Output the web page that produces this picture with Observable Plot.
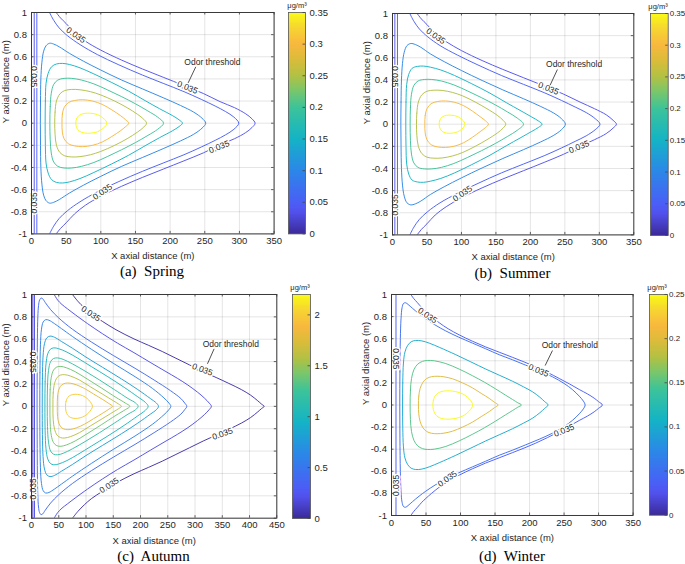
<!DOCTYPE html>
<html><head><meta charset="utf-8">
<script src="https://cdn.jsdelivr.net/npm/d3@7"></script>
<script src="https://cdn.jsdelivr.net/npm/@observablehq/plot@0.6"></script>
<style>
html,body{margin:0;padding:0;background:#fff;}
#page{position:relative;width:685px;height:564px;overflow:hidden;font-family:"Liberation Sans",Arial,sans-serif;}
.box{position:absolute;}
.cap{position:absolute;font-family:"Liberation Serif","Times New Roman",serif;font-size:15px;white-space:pre;transform:translate(-50%,-50%);color:#000;}
.unit{position:absolute;font-size:7.5px;transform:translate(-50%,-50%);color:#262626;white-space:nowrap;}
</style></head><body><div id="page"></div>
<script>
// ---------- colour map (parula-like) ----------
const parulaT = [0, 0.1, 0.143, 0.29, 0.43, 0.57, 0.65, 0.714, 0.79, 0.857, 0.93, 1];
const parulaC = ["#3b2a98","#5252ee","#4a5ff6","#2b88e8","#14b4c6","#3cc39a","#7cc66a","#b2c144","#dcbc3a","#f8b83e","#f7d532","#f9fb15"];

// ---------- shared ticks ----------
const yTicks = [-1, -0.8, -0.6, -0.4, -0.2, 0, 0.2, 0.4, 0.6, 0.8, 1];
const xTicks350 = [0, 50, 100, 150, 200, 250, 300, 350];
const xTicks450 = [0, 50, 100, 150, 200, 250, 300, 350, 400, 450];
const cbTicks035 = [0, 0.05, 0.1, 0.15, 0.2, 0.25, 0.3, 0.35];
const cbTicks22 = [0, 0.5, 1, 1.5, 2];
const cbTicks025 = [0, 0.05, 0.1, 0.15, 0.2, 0.25];
const thresholdText = "Odor threshold";

// ---------- (a) Spring ----------
const springLevels = [0.035, 0.05, 0.1, 0.15, 0.2, 0.25, 0.3, 0.35];
const springMax = 0.35;
const springLeftX = [3.9, 7.7];
const springOpen = [
  [[35.6,1],[42,0.95],[50,0.9],[62,0.82],[78,0.74],[100,0.66],[130,0.57],[160,0.49],[190,0.415],[220,0.34],[248,0.268],[272,0.195],[293,0.14],[309,0.085],[318,0.04],[322.6,0]],
  [[26,1],[32,0.93],[40,0.86],[52,0.79],[70,0.71],[95,0.62],[125,0.53],[160,0.435],[190,0.36],[220,0.285],[245,0.215],[265,0.155],[280,0.105],[292,0.055],[299,0]]
];
const springClosed = [
  [[12.8,0],[13,0.2],[13.5,0.4],[15,0.55],[17.5,0.65],[21,0.7],[26,0.722],[32,0.715],[40,0.69],[55,0.63],[75,0.56],[100,0.48],[130,0.39],[160,0.31],[190,0.23],[215,0.16],[234,0.1],[246,0.045],[251.4,0]],
  [[19.7,0],[20,0.2],[21,0.36],[24,0.45],[29,0.51],[36,0.535],[45,0.54],[55,0.53],[70,0.5],[90,0.445],[115,0.37],[140,0.29],[165,0.2],[185,0.13],[203,0.07],[213,0.03],[217.8,0]],
  [[26.5,0],[27,0.15],[28.5,0.27],[32,0.35],[38,0.39],[47,0.405],[58,0.405],[72,0.39],[90,0.355],[110,0.3],[130,0.24],[150,0.175],[168,0.11],[182,0.055],[190.5,0]],
  [[33.5,0],[34,0.1],[36,0.2],[41,0.265],[48,0.295],[58,0.305],[70,0.302],[85,0.285],[100,0.255],[120,0.2],[138,0.14],[153,0.08],[162,0.035],[166,0]],
  [[44,0],[44.5,0.08],[47,0.14],[53,0.185],[62,0.205],[74,0.212],[88,0.2],[102,0.17],[116,0.12],[128,0.07],[136,0.03],[140.4,0]],
  [[64,0],[65,0.04],[69,0.072],[76,0.088],[85,0.09],[95,0.078],[103,0.048],[107.5,0.02],[108.7,0]]
];
const springLabels = [[64,0.795,35],[225,0.322,22],[270.7,-0.214,-22],[102.4,-0.62,-35],[3.9,0.42,90],[3.9,-0.72,-90]];
const springOdor = [[261,0.554]];
const springLeader = [[237,0.509,226,0.364]];

// ---------- (b) Summer ----------
const summerLevels = [0.035, 0.05, 0.1, 0.15, 0.2, 0.25, 0.3, 0.35];
const summerMax = 0.35;
const summerLeftX = [3.4, 7.2];
const summerOpen = [
  [[35.7,1],[42,0.95],[50,0.9],[62,0.82],[78,0.745],[100,0.665],[130,0.575],[160,0.495],[190,0.42],[220,0.345],[248,0.272],[272,0.2],[293,0.14],[310,0.085],[320,0.035],[324.8,0]],
  [[25.1,1],[31,0.93],[39,0.86],[51,0.79],[69,0.71],[94,0.625],[124,0.535],[158,0.44],[190,0.36],[220,0.285],[245,0.215],[265,0.155],[281,0.105],[294,0.05],[301,0]]
];
const summerClosed = [
  [[12.1,0],[12.4,0.2],[13,0.4],[14.5,0.55],[17,0.65],[21,0.71],[26.6,0.729],[33,0.72],[41,0.695],[55,0.635],[75,0.565],[100,0.485],[130,0.395],[160,0.31],[190,0.23],[215,0.16],[234,0.1],[245,0.05],[250.8,0]],
  [[19.3,0],[19.6,0.2],[20.6,0.36],[23.5,0.45],[28.5,0.505],[36,0.522],[45,0.525],[55,0.515],[70,0.49],[90,0.44],[115,0.365],[140,0.285],[165,0.195],[185,0.125],[202,0.065],[212,0.028],[217,0]],
  [[25.6,0],[26,0.15],[27.5,0.27],[31,0.35],[37,0.39],[46,0.404],[57,0.404],[71,0.39],[89,0.355],[109,0.3],[129,0.24],[149,0.175],[167,0.11],[181,0.055],[190,0]],
  [[34.8,0],[35.3,0.1],[37.5,0.2],[42.5,0.265],[50,0.298],[60,0.307],[72,0.305],[87,0.287],[102,0.255],[120,0.2],[137,0.14],[152,0.08],[160.5,0.035],[164.3,0]],
  [[46.9,0],[47.4,0.08],[50,0.14],[56,0.185],[65,0.205],[77,0.21],[90,0.198],[103,0.168],[116,0.118],[127,0.068],[135,0.03],[139.2,0]],
  [[67.7,0],[68.6,0.035],[72,0.065],[78,0.08],[86,0.081],[94,0.07],[100.5,0.045],[104,0.02],[104.9,0]]
];
const summerLabels = [[62.8,0.795,35],[226.2,0.322,22],[270.7,-0.205,-22],[101.5,-0.627,-35],[3.4,0.43,90],[3.4,-0.73,-90]];
const summerOdor = [[263.4,0.542]];
const summerLeader = [[239.2,0.494,228.6,0.352]];

// ---------- (c) Autumn ----------
const autumnLevels = [0.035, 0.2, 0.4, 0.6, 0.8, 1.0, 1.2, 1.4, 1.6, 1.8, 2.0];
const autumnMax = 2.2;
const autumnLeftX = [2.5, 5.5];
const autumnOpen = [
  [[75.2,1],[85,0.94],[97,0.88],[110,0.825],[130,0.76],[155,0.685],[188,0.603],[215,0.545],[240,0.49],[265,0.43],[290,0.37],[315,0.31],[340,0.255],[362,0.205],[385,0.15],[402,0.1],[415,0.05],[422,0.02],[426.8,0]],
  [[41.6,1],[48,0.95],[56,0.91],[66,0.872],[80,0.82],[102.7,0.74],[130,0.65],[157.7,0.565],[188,0.48],[218.9,0.39],[245,0.315],[267.8,0.25],[287,0.19],[304.5,0.127],[317,0.075],[325.9,0.03],[330,0]]
];
const autumnClosed = [
  [[10.2,0],[10.4,0.3],[10.8,0.6],[11.6,0.8],[12.9,0.9],[14.8,0.95],[17.5,0.968],[20.5,0.962],[25,0.93],[35,0.865],[50,0.79],[75,0.69],[110,0.575],[150,0.455],[190,0.34],[225,0.235],[255,0.14],[274,0.07],[281,0.03],[284.9,0]],
  [[15.2,0],[15.5,0.3],[16.4,0.55],[18.3,0.69],[21.5,0.755],[26,0.775],[32,0.77],[42,0.74],[55,0.695],[75,0.625],[110,0.51],[150,0.385],[190,0.265],[222,0.16],[243,0.075],[252,0.03],[255.6,0]],
  [[19.7,0],[20,0.25],[21.2,0.45],[23.8,0.56],[28,0.612],[34,0.628],[42,0.618],[55,0.58],[75,0.52],[100,0.44],[130,0.35],[165,0.245],[195,0.15],[218,0.07],[229,0.03],[233,0]],
  [[24.6,0],[25,0.22],[26.6,0.38],[29.8,0.47],[34.5,0.51],[41,0.523],[50,0.515],[65,0.485],[85,0.43],[110,0.355],[140,0.265],[170,0.17],[195,0.085],[209,0.035],[214,0]],
  [[28.9,0],[29.3,0.18],[31.2,0.32],[35,0.4],[40.5,0.428],[48,0.433],[58,0.42],[75,0.38],[100,0.31],[125,0.235],[152,0.15],[177,0.07],[191,0.03],[195.7,0]],
  [[33.8,0],[34.2,0.15],[36.3,0.26],[40.5,0.325],[46.5,0.352],[54,0.357],[64,0.345],[80,0.31],[102,0.245],[128,0.165],[155,0.08],[172,0.03],[180.4,0]],
  [[39.3,0],[39.8,0.12],[42.3,0.205],[47,0.258],[53.5,0.28],[61,0.283],[72,0.27],[88,0.235],[108,0.175],[130,0.11],[150,0.05],[160,0.02],[165,0]],
  [[47.3,0],[47.8,0.09],[50.5,0.155],[55.5,0.192],[62.5,0.207],[71,0.207],[82,0.193],[97,0.16],[114,0.11],[131,0.06],[142,0.025],[148.6,0]],
  [[62.5,0],[63.3,0.045],[66.5,0.08],[72,0.1],[80,0.108],[89,0.103],[98,0.085],[105,0.057],[109.5,0.028],[112,0]]
];
const autumnLabels = [[108.8,0.827,33],[313.6,0.329,20],[350.3,-0.246,-20],[142.5,-0.708,-33],[2.5,0.395,90],[2.5,-0.738,-90]];
const autumnOdor = [[365.6,0.553]];
const autumnLeader = [[335,0.514,322.8,0.38]];

// ---------- (d) Winter ----------
const winterLevels = [0.035, 0.05, 0.1, 0.15, 0.2, 0.25];
const winterMax = 0.25;
const winterLeftX = [6.5];
const winterOpen = [
  [[28,1],[32,0.965],[37.7,0.925],[44,0.88],[49.8,0.845],[58,0.8],[69,0.745],[82,0.69],[98,0.635],[117,0.578],[136.5,0.525],[156,0.478],[175,0.432],[192,0.39],[209,0.345],[226,0.295],[243,0.24],[258,0.19],[272,0.14],[284,0.1],[293.6,0.062],[300,0.03],[305.6,0]]
];
const winterClosed = [
  [[12,0],[12.2,0.3],[12.8,0.6],[13.8,0.78],[15.3,0.88],[17.5,0.92],[20.5,0.925],[24,0.91],[30.4,0.875],[40,0.825],[49.7,0.78],[63,0.725],[78.7,0.67],[97,0.615],[117.3,0.56],[136,0.51],[156,0.455],[175,0.41],[194.6,0.36],[214,0.31],[233.2,0.255],[250,0.195],[262,0.14],[272,0.08],[278,0.035],[280.5,0]],
  [[16,0],[16.3,0.2],[17.3,0.38],[19.5,0.48],[23.5,0.54],[28.5,0.572],[35,0.584],[44,0.58],[54.6,0.56],[70,0.52],[93.2,0.455],[115,0.39],[136.6,0.325],[156,0.27],[175.3,0.215],[191,0.165],[204.2,0.12],[215,0.07],[222,0.03],[226.9,0]],
  [[27,0],[27.4,0.13],[29,0.24],[32.5,0.32],[38,0.37],[45,0.395],[52,0.403],[62,0.4],[78.7,0.375],[98,0.325],[117.3,0.265],[135,0.205],[151,0.145],[165,0.09],[175.3,0.05],[183,0.02],[188.3,0]],
  [[39,0],[39.5,0.08],[41.5,0.15],[45.5,0.205],[51,0.24],[58,0.256],[66,0.26],[76,0.255],[88.4,0.237],[103,0.2],[117.3,0.155],[130,0.105],[141.5,0.06],[149,0.025],[154.5,0]],
  [[60,0],[60.6,0.04],[63,0.08],[67.5,0.108],[73,0.123],[80,0.128],[88,0.126],[98,0.113],[106,0.09],[112.5,0.056],[116,0.027],[117.8,0]]
];
const winterLabels = [[52.1,0.81,35],[213,0.312,22],[250,-0.23,-22],[81,-0.668,-35],[6.5,0.418,90],[6.5,-0.728,-90]];
const winterOdor = [[258.3,0.538]];
const winterLeader = [[233.2,0.493,222.6,0.357]];

// ---------- drawing ----------
const FONT = '"Liberation Sans", Arial, sans-serif';
const INK = "#262626";
const fmt = d => String(d);
const page = document.getElementById("page");

function buildRows(levels, leftX, open, closed) {
  const openRows = [], closedRows = [];
  open.forEach((pts, i) => {
    const full = pts.concat(pts.slice(0, -1).reverse().map(([x, y]) => [x, -y]));
    full.forEach(([x, y]) => openRows.push({id: "o" + i, level: levels[i], x, y}));
  });
  leftX.forEach((x0, i) => {
    openRows.push({id: "v" + i, level: levels[i], x: x0, y: -1});
    openRows.push({id: "v" + i, level: levels[i], x: x0, y: 1});
  });
  closed.forEach((pts, j) => {
    const full = pts.concat(pts.slice(1, -1).reverse().map(([x, y]) => [x, -y]));
    full.forEach(([x, y]) => closedRows.push({id: "c" + j, level: levels[open.length + j], x, y}));
  });
  return {openRows, closedRows};
}

function colorSpec(max) {
  return {type: "linear", domain: parulaT.map(t => t * max), range: parulaC, clamp: true, interpolate: "rgb"};
}

function place(node, left, top, w, h) {
  const d = document.createElement("div");
  d.className = "box";
  d.style.left = left + "px"; d.style.top = top + "px";
  d.style.width = w + "px"; d.style.height = h + "px";
  d.appendChild(node);
  page.appendChild(d);
}

function htmlText(cls, text, x, y) {
  const d = document.createElement("div");
  d.className = cls; d.textContent = text;
  d.style.left = x + "px"; d.style.top = y + "px";
  page.appendChild(d);
}

function drawPanel(c) {
  const mL = 31, mT = 12, mR = 6, mB = 32;
  const {openRows, closedRows} = buildRows(c.levels, c.leftX, c.open, c.closed);
  const W = c.W, H = c.H;
  const main = Plot.plot({
    width: W + mL + mR, height: H + mT + mB,
    marginLeft: mL, marginTop: mT, marginRight: mR, marginBottom: mB,
    x: {domain: [0, c.xMax]},
    y: {domain: [-1, 1]},
    color: colorSpec(c.max),
    style: {fontFamily: FONT, fontSize: "9.5px", color: INK, background: "transparent", overflow: "visible"},
    marks: [
      Plot.gridX(c.xTicks, {stroke: "#000", strokeOpacity: 0.11}),
      Plot.gridY(yTicks, {stroke: "#000", strokeOpacity: 0.11}),
      Plot.line(openRows, {x: "x", y: "y", z: "id", stroke: "level", curve: "catmull-rom", strokeWidth: 0.95, clip: true}),
      Plot.line(closedRows, {x: "x", y: "y", z: "id", stroke: "level", curve: "catmull-rom-closed", strokeWidth: 0.95, clip: true}),
      Plot.text(c.labels, {x: d => d[0], y: d => d[1], rotate: d => d[2], text: () => String(c.levels[0]), fontSize: 8.5, fill: INK, stroke: "white", strokeWidth: 3, lineAnchor: "middle"}),
      Plot.link(c.leader, {x1: d => d[0], y1: d => d[1], x2: d => d[2], y2: d => d[3], stroke: INK, strokeWidth: 0.8}),
      Plot.text(c.odor, {x: d => d[0], y: d => d[1], text: () => thresholdText, fontSize: 8.5, fill: INK, lineAnchor: "middle"}),
      Plot.frame({stroke: "#3a3a3a", strokeWidth: 1}),
      Plot.ruleX(c.xTicks, {x: d => d, y1: 1, y2: -1, insetTop: H - 2.5, stroke: "#3a3a3a", strokeWidth: 0.8}),
      Plot.ruleX(c.xTicks, {x: d => d, y1: 1, y2: -1, insetBottom: H - 2.5, stroke: "#3a3a3a", strokeWidth: 0.8}),
      Plot.ruleY(yTicks, {y: d => d, x1: 0, x2: c.xMax, insetRight: W - 2.5, stroke: "#3a3a3a", strokeWidth: 0.8}),
      Plot.ruleY(yTicks, {y: d => d, x1: 0, x2: c.xMax, insetLeft: W - 2.5, stroke: "#3a3a3a", strokeWidth: 0.8}),
      Plot.axisX(c.xTicks, {anchor: "bottom", tickSize: 0, tickPadding: 3.5, tickFormat: fmt, label: null, fill: INK}),
      Plot.axisY(yTicks, {anchor: "left", tickSize: 0, tickPadding: 4.5, tickFormat: fmt, label: null, fill: INK}),
      Plot.text(["X axial distance (m)"], {frameAnchor: "bottom", dy: 22.5, lineAnchor: "middle", fontSize: 9.5, fill: INK}),
      Plot.text(["Y axial distance (m)"], {frameAnchor: "left", dx: -26, rotate: -90, lineAnchor: "middle", fontSize: 9.5, fill: INK})
    ]
  });
  place(main, c.L - mL, c.T - mT, W + mL + mR, H + mT + mB);

  const cm = 6;
  const bar = Plot.plot({
    width: c.cbW + 34, height: c.cbH + 2 * cm,
    marginLeft: 0, marginRight: 34, marginTop: cm, marginBottom: cm,
    x: {domain: [0, 1], axis: null},
    y: {domain: [0, c.max]},
    color: colorSpec(c.max),
    style: {fontFamily: FONT, fontSize: c.cbFont + "px", color: INK, background: "transparent", overflow: "visible"},
    marks: [
      Plot.raster({x1: 0, x2: 1, y1: 0, y2: c.max, width: 1, height: 256, fill: (x, y) => y, imageRendering: "auto"}),
      Plot.frame({stroke: "#555", strokeWidth: 0.8}),
      Plot.ruleY(c.cbTicks, {y: d => d, x1: 0, x2: 1, insetLeft: c.cbW - 2.5, stroke: "#444", strokeWidth: 0.8}),
      Plot.axisY(c.cbTicks, {anchor: "right", tickSize: 0, tickPadding: c.cbPad, tickFormat: fmt, label: null, fill: INK})
    ]
  });
  place(bar, c.cbL, c.cbT - cm, c.cbW + 34, c.cbH + 2 * cm);

  htmlText("unit", "μg/m³", c.unitX, c.unitY);
  htmlText("cap", c.caption, c.capX, c.capY);
}

drawPanel({L: 30.7, T: 12.3, W: 242.6, H: 221.4, xMax: 350, xTicks: xTicks350, max: springMax, cbTicks: cbTicks035,
  levels: springLevels, leftX: springLeftX, open: springOpen, closed: springClosed,
  labels: springLabels, odor: springOdor, leader: springLeader, cbFont: 9.5, cbPad: 4,
  cbL: 288.3, cbT: 12.3, cbW: 17, cbH: 221.4, unitX: 297, unitY: 5, caption: "(a)  Spring", capX: 152, capY: 270.5});

drawPanel({L: 391.7, T: 13.3, W: 241.3, H: 221.4, xMax: 350, xTicks: xTicks350, max: summerMax, cbTicks: cbTicks035,
  levels: summerLevels, leftX: summerLeftX, open: summerOpen, closed: summerClosed,
  labels: summerLabels, odor: summerOdor, leader: summerLeader, cbFont: 8, cbPad: 1.5,
  cbL: 650, cbT: 12.7, cbW: 17.7, cbH: 222, unitX: 658, unitY: 5.5, caption: "(b)  Summer", capX: 512.5, capY: 272.5});

drawPanel({L: 30.7, T: 294.3, W: 245.3, H: 223.7, xMax: 450, xTicks: xTicks450, max: autumnMax, cbTicks: cbTicks22,
  levels: autumnLevels, leftX: autumnLeftX, open: autumnOpen, closed: autumnClosed,
  labels: autumnLabels, odor: autumnOdor, leader: autumnLeader, cbFont: 9.5, cbPad: 4,
  cbL: 292, cbT: 294.3, cbW: 18, cbH: 224, unitX: 300, unitY: 287, caption: "(c)  Autumn", capX: 153.5, capY: 556});

drawPanel({L: 390.7, T: 294.3, W: 241.6, H: 221, xMax: 350, xTicks: xTicks350, max: winterMax, cbTicks: cbTicks025,
  levels: winterLevels, leftX: winterLeftX, open: winterOpen, closed: winterClosed,
  labels: winterLabels, odor: winterOdor, leader: winterLeader, cbFont: 8, cbPad: 1.5,
  cbL: 649, cbT: 294.3, cbW: 18, cbH: 220.7, unitX: 657, unitY: 287, caption: "(d)  Winter", capX: 512, capY: 556});
</script></body></html>
